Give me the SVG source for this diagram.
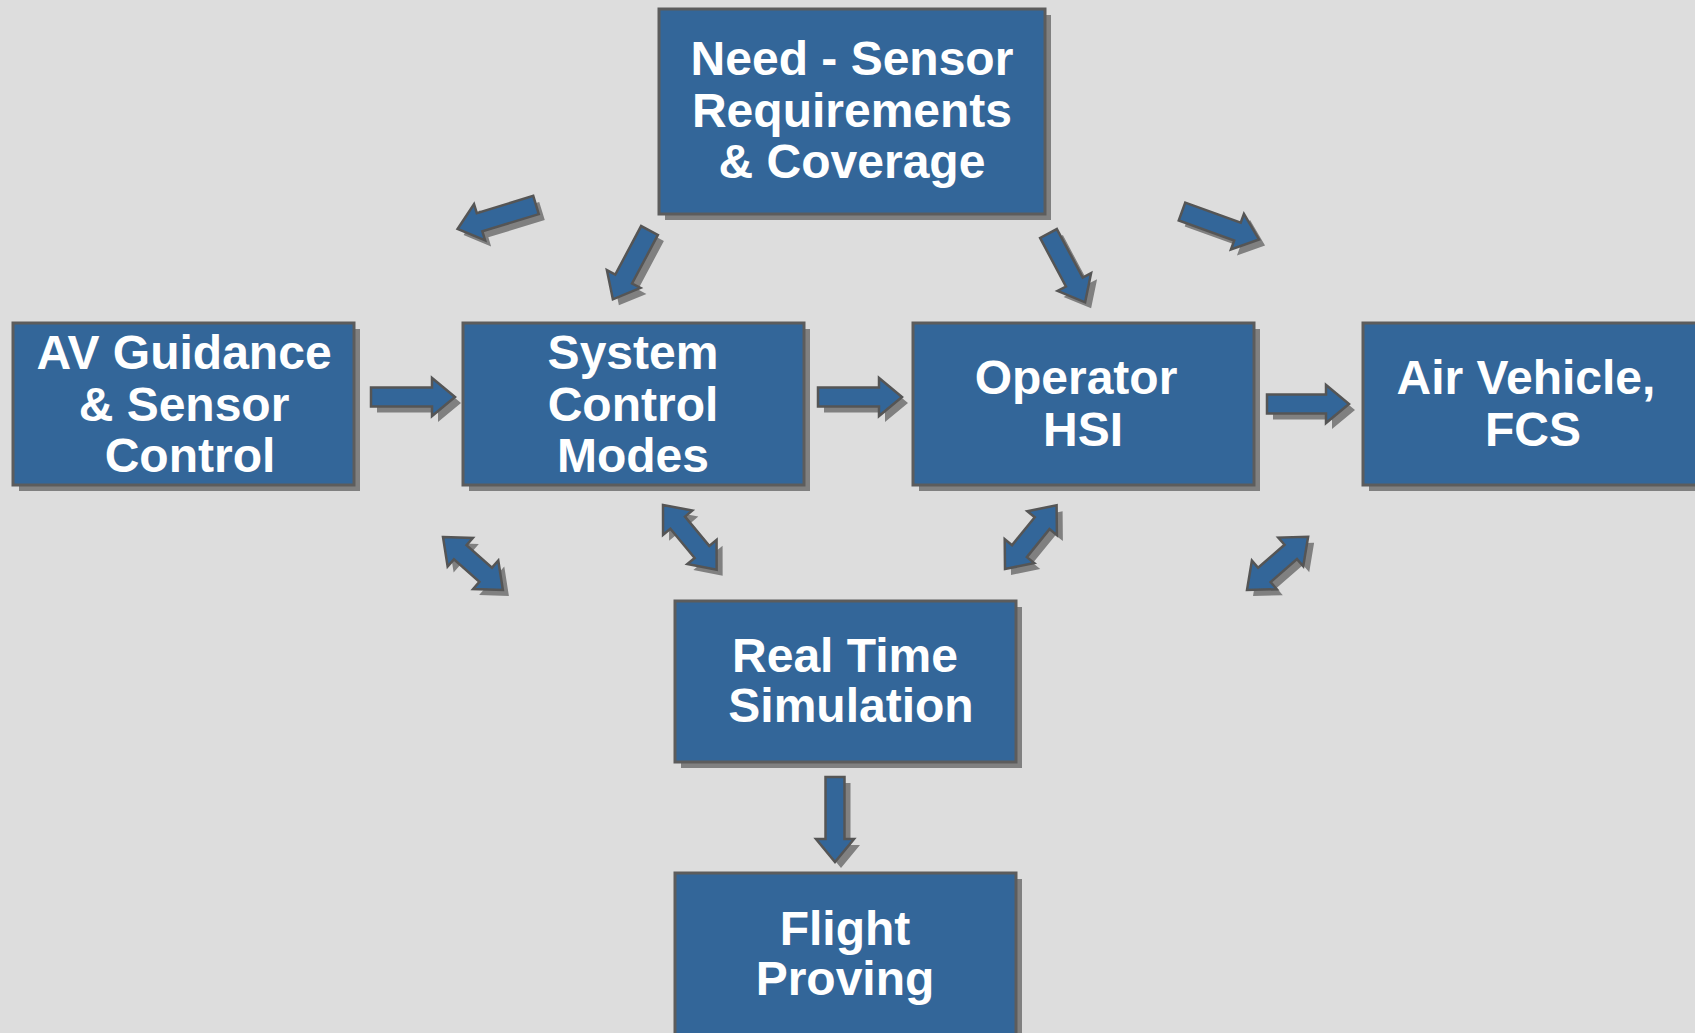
<svg xmlns="http://www.w3.org/2000/svg" width="1695" height="1033" viewBox="0 0 1695 1033">
<style>
.bg{fill:#dddddd}
.box{fill:#336699;stroke:#5c5c5c;stroke-width:3}
.bsh{fill:#808080}
.t{font-family:"Liberation Sans",Arial,sans-serif;font-weight:bold;font-size:48px;fill:#ffffff;text-anchor:middle}
.arr{fill:#336699;stroke:#555555;stroke-width:2.5;stroke-linejoin:miter}
.ash{fill:#808080}
</style>
<rect class="bg" x="0" y="0" width="1695" height="1033"/>
<g id="connectors">
  <g id="a-av-sys"><path class="ash" transform="translate(377,403)" d="M0,-9.5 H61 V-19 L84,0 L61,19 V9.5 H0 Z"/><path class="arr" transform="translate(371,397)" d="M0,-9.5 H61 V-19 L84,0 L61,19 V9.5 H0 Z"/></g>
  <g id="a-sys-op"><path class="ash" transform="translate(824,403)" d="M0,-9.5 H61 V-19 L84,0 L61,19 V9.5 H0 Z"/><path class="arr" transform="translate(818,397)" d="M0,-9.5 H61 V-19 L84,0 L61,19 V9.5 H0 Z"/></g>
  <g id="a-op-air"><path class="ash" transform="translate(1273,410)" d="M0,-9.5 H59 V-19 L82,0 L59,19 V9.5 H0 Z"/><path class="arr" transform="translate(1267,404)" d="M0,-9.5 H59 V-19 L82,0 L59,19 V9.5 H0 Z"/></g>
  <g id="a-rt-fp"><path class="ash" transform="translate(841,783) rotate(90)" d="M0,-9.5 H62 V-19 L85,0 L62,19 V9.5 H0 Z"/><path class="arr" transform="translate(835,777) rotate(90)" d="M0,-9.5 H62 V-19 L85,0 L62,19 V9.5 H0 Z"/></g>
  <g id="a-need-l"><path class="ash" transform="translate(542,211) rotate(163)" d="M0,-9.5 H59 V-19 L82,0 L59,19 V9.5 H0 Z"/><path class="arr" transform="translate(536,205) rotate(163)" d="M0,-9.5 H59 V-19 L82,0 L59,19 V9.5 H0 Z"/></g>
  <g id="a-need-sys"><path class="ash" transform="translate(655.5,236.5) rotate(118)" d="M0,-9.5 H55 V-19 L78,0 L55,19 V9.5 H0 Z"/><path class="arr" transform="translate(649.5,230.5) rotate(118)" d="M0,-9.5 H55 V-19 L78,0 L55,19 V9.5 H0 Z"/></g>
  <g id="a-need-op"><path class="ash" transform="translate(1054.5,239.5) rotate(62)" d="M0,-9.5 H55 V-19 L78,0 L55,19 V9.5 H0 Z"/><path class="arr" transform="translate(1048.5,233.5) rotate(62)" d="M0,-9.5 H55 V-19 L78,0 L55,19 V9.5 H0 Z"/></g>
  <g id="a-need-r"><path class="ash" transform="translate(1188,217.5) rotate(20)" d="M0,-9.5 H59 V-19 L82,0 L59,19 V9.5 H0 Z"/><path class="arr" transform="translate(1182,211.5) rotate(20)" d="M0,-9.5 H59 V-19 L82,0 L59,19 V9.5 H0 Z"/></g>
  <g id="d-av-rt"><path class="ash" transform="translate(449,543) rotate(41.5)" d="M0,0 L23,-19 V-9.5 H57 V-19 L80,0 L57,19 V9.5 H23 V19 Z"/><path class="arr" transform="translate(443,537) rotate(41.5)" d="M0,0 L23,-19 V-9.5 H57 V-19 L80,0 L57,19 V9.5 H23 V19 Z"/></g>
  <g id="d-sys-rt"><path class="ash" transform="translate(669,511) rotate(50.3)" d="M0,0 L23,-19 V-9.5 H61 V-19 L84,0 L61,19 V9.5 H23 V19 Z"/><path class="arr" transform="translate(663,505) rotate(50.3)" d="M0,0 L23,-19 V-9.5 H61 V-19 L84,0 L61,19 V9.5 H23 V19 Z"/></g>
  <g id="d-op-rt"><path class="ash" transform="translate(1011,575) rotate(-51)" d="M0,0 L23,-19 V-9.5 H59 V-19 L82,0 L59,19 V9.5 H23 V19 Z"/><path class="arr" transform="translate(1005,569) rotate(-51)" d="M0,0 L23,-19 V-9.5 H59 V-19 L82,0 L59,19 V9.5 H23 V19 Z"/></g>
  <g id="d-air-rt"><path class="ash" transform="translate(1253,596) rotate(-41)" d="M0,0 L23,-19 V-9.5 H58 V-19 L81,0 L58,19 V9.5 H23 V19 Z"/><path class="arr" transform="translate(1247,590) rotate(-41)" d="M0,0 L23,-19 V-9.5 H58 V-19 L81,0 L58,19 V9.5 H23 V19 Z"/></g>
</g>
<g id="need">
  <rect class="bsh" x="665" y="15" width="386" height="205"/>
  <rect class="box" x="659" y="9" width="386" height="205"/>
  <text class="t" x="852" y="75">Need - Sensor</text>
  <text class="t" x="852" y="127">Requirements</text>
  <text class="t" x="852" y="178">&amp; Coverage</text>
</g>
<g id="av">
  <rect class="bsh" x="19" y="329" width="341" height="162"/>
  <rect class="box" x="13" y="323" width="341" height="162"/>
  <text class="t" x="184" y="369">AV Guidance</text>
  <text class="t" x="184" y="421">&amp; Sensor</text>
  <text class="t" x="190" y="472">Control</text>
</g>
<g id="sys">
  <rect class="bsh" x="469" y="329" width="341" height="162"/>
  <rect class="box" x="463" y="323" width="341" height="162"/>
  <text class="t" x="633" y="369">System</text>
  <text class="t" x="633" y="421">Control</text>
  <text class="t" x="633" y="472">Modes</text>
</g>
<g id="op">
  <rect class="bsh" x="919" y="329" width="341" height="162"/>
  <rect class="box" x="913" y="323" width="341" height="162"/>
  <text class="t" x="1076" y="394">Operator</text>
  <text class="t" x="1083" y="446">HSI</text>
</g>
<g id="air">
  <rect class="bsh" x="1369" y="329" width="341" height="162"/>
  <rect class="box" x="1363" y="323" width="341" height="162"/>
  <text class="t" x="1526" y="394">Air Vehicle,</text>
  <text class="t" x="1533" y="446">FCS</text>
</g>
<g id="rt">
  <rect class="bsh" x="681" y="607" width="341" height="161"/>
  <rect class="box" x="675" y="601" width="341" height="161"/>
  <text class="t" x="845" y="672">Real Time</text>
  <text class="t" x="851" y="722">Simulation</text>
</g>
<g id="fp">
  <rect class="bsh" x="681" y="879" width="341" height="170"/>
  <rect class="box" x="675" y="873" width="341" height="170"/>
  <text class="t" x="845" y="945">Flight</text>
  <text class="t" x="845" y="995">Proving</text>
</g>
</svg>
